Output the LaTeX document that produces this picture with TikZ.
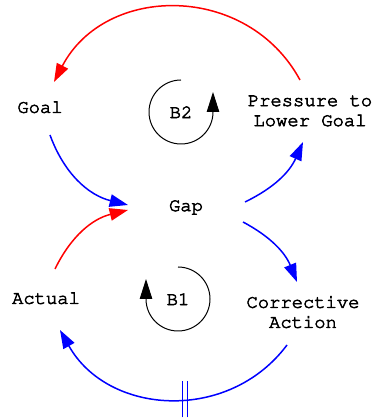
\documentclass[tikz,border=0pt]{standalone}
\usepackage[T1]{fontenc}
\usepackage{courier}
\usetikzlibrary{arrows.meta}

% slightly heavier strokes for the labels
\newcommand{\heavytext}[1]{\special{pdf:literal 2 Tr 0.35 w}#1\special{pdf:literal 0 Tr}}

\begin{document}
\begin{tikzpicture}[x=0.6pt, y=0.6pt,
        varnode/.style={font=\ttfamily\fontsize{11.3}{12}\selectfont, align=center, inner sep=0pt},
        poslink/.style={blue, line width=0.9pt, -{Triangle[length=11pt, width=7.5pt]}},
        neglink/.style={red, line width=0.9pt, -{Triangle[length=11pt, width=7.5pt]}},
        loopmark/.style={black, line width=0.6pt, -{Triangle[length=12pt, width=7.5pt]}},
        delaymark/.style={blue, line width=0.6pt}]
    \useasboundingbox (0,0) rectangle (377,420);

    \node[varnode] (goal) at (40,313) {\heavytext{Goal}};
    \node[varnode] (pressure) at (310,309) {\heavytext{Pressure to}\\\heavytext{Lower Goal}};
    \node[varnode] (gap) at (186,213) {\heavytext{Gap}};
    \node[varnode] (actual) at (46,122) {\heavytext{Actual}};
    \node[varnode] (action) at (303,108) {\heavytext{Corrective}\\\heavytext{Action}};
    \node[varnode] (b2) at (181,308) {\heavytext{B2}};
    \node[varnode] (b1) at (178,121) {\heavytext{B1}};

    \draw[neglink] ([shift={(-10,31)}]pressure.center) to[bend right=62, looseness=1.15] ([shift={(14,25)}]goal.center);
    \draw[poslink] ([shift={(10,-28)}]goal.center) to[bend right=28] ([shift={(-58,2)}]gap.center);
    \draw[neglink] ([shift={(9,29)}]actual.center) to[bend left=25] ([shift={(-58,-3)}]gap.center);
    \draw[poslink] ([shift={(59,5)}]gap.center) to[bend right=20] ([shift={(-7,-31)}]pressure.center);
    \draw[poslink] ([shift={(57,-15)}]gap.center) to[bend left=20] ([shift={(-6,30)}]action.center);
    \draw[poslink] ([shift={(-16,-33)}]action.center) to[bend left=57, looseness=1.1] coordinate[pos=0.44] (delay) ([shift={(14,-32)}]actual.center);
    \draw[delaymark] ([shift={(-1.5pt,-11pt)}]delay) -- ++(0,22pt);
    \draw[delaymark] ([shift={(1.5pt,-11pt)}]delay) -- ++(0,22pt);

    \draw[loopmark] ([shift={(90:19.2pt)}]b2.center) arc[start angle=90, end angle=360, radius=19.2pt] -- ++(0,12pt);
    \draw[loopmark] ([shift={(90:19.2pt)}]b1.center) arc[start angle=90, end angle=-180, radius=19.2pt] -- ++(0,12pt);
\end{tikzpicture}
\end{document}
